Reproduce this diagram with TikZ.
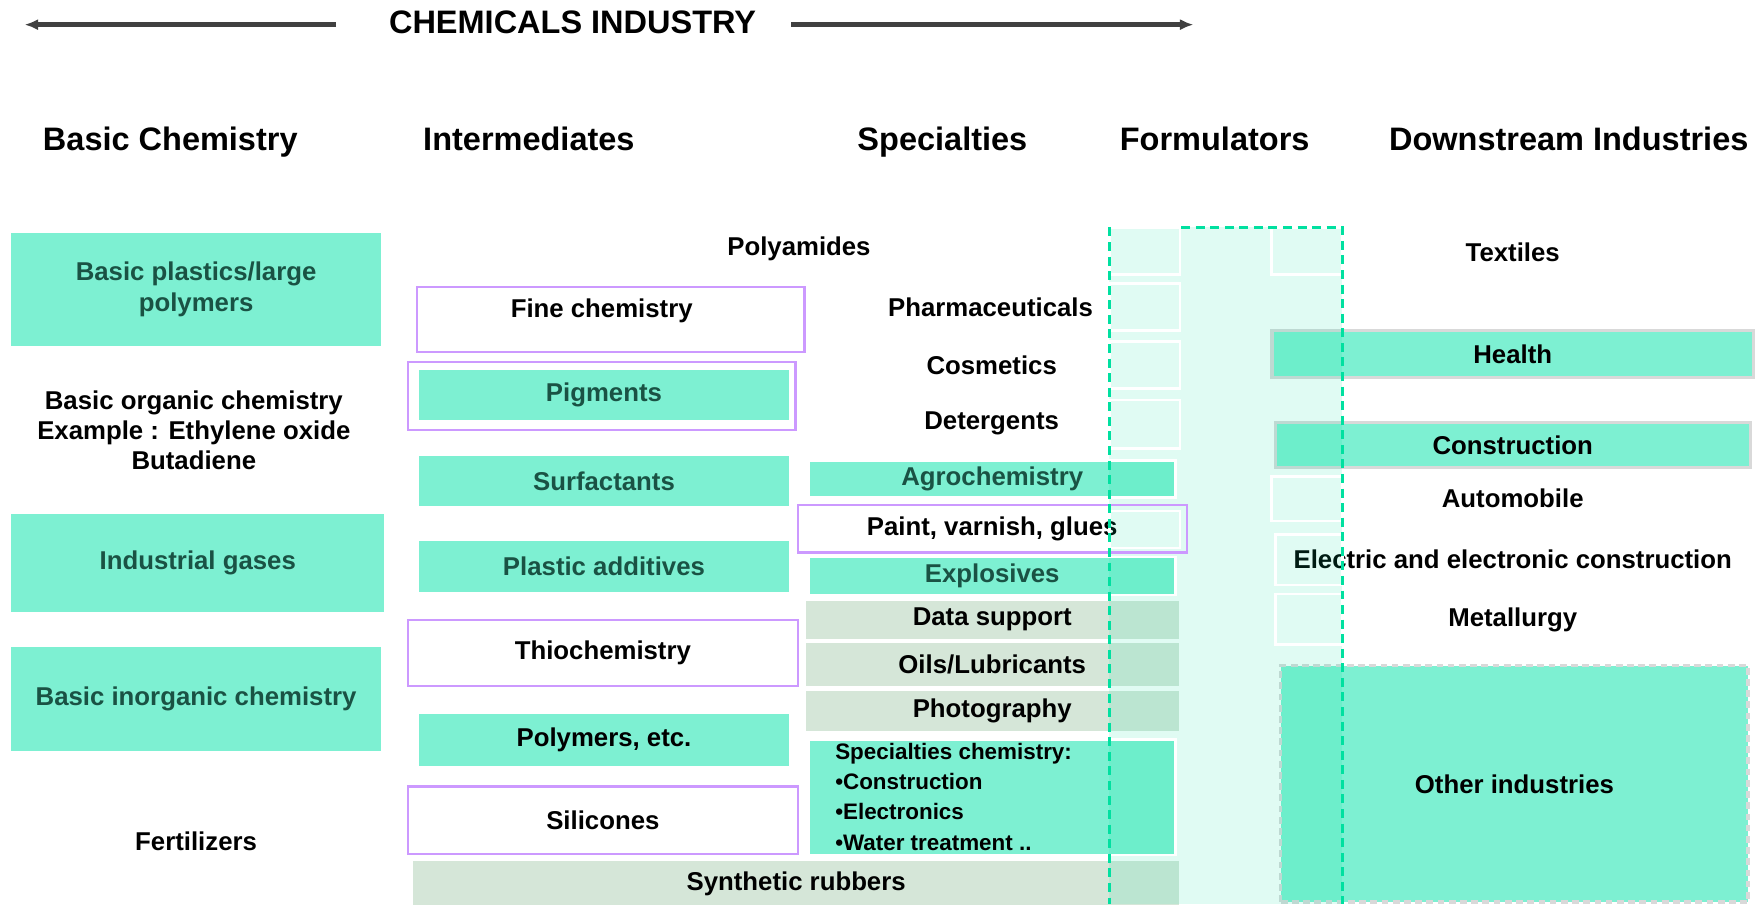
\documentclass[tikz,border=0pt]{standalone}
\usepackage{fontspec}
\setmainfont{Liberation Sans}
\usetikzlibrary{arrows.meta}
\definecolor{mint}{HTML}{7DF0D2}
\definecolor{gg}{HTML}{D5E6D8}
\definecolor{purp}{HTML}{CC99FF}
\definecolor{dashg}{HTML}{00E0A0}
\definecolor{grayb}{HTML}{D9D9D9}
\definecolor{dgreen}{HTML}{1A5244}
\definecolor{arrowgray}{HTML}{404040}
\tikzset{
 bx/.style={inner sep=0pt, outer sep=0pt, rectangle},
 sz/.style 2 args={minimum width=#1, minimum height=#2},
 mintbox/.style={bx, fill=mint},
 mintwbox/.style={bx, fill=mint, draw=white, line width=1.2pt},
 purpbox/.style={bx, draw=purp, line width=1pt, fill=white},
 ggbox/.style={bx, fill=gg},
 dsbox/.style={bx, fill=mint, draw=grayb, line width=1.5pt},
 odbox/.style={bx, fill=mint, draw=grayb, line width=1.5pt, dash pattern=on 3pt off 2pt},
 cellline/.style={draw=white, line width=1.2pt},
 txt/.style={font=\bfseries\fontsize{11.5}{13.5}\selectfont, align=center, inner sep=0pt},
 gtxt/.style={txt, text=dgreen},
 smalltxt/.style={font=\bfseries\fontsize{10}{13.5}\selectfont, align=left, inner sep=0pt},
 hdr/.style={font=\bfseries\fontsize{14.5}{17}\selectfont, inner sep=0pt, anchor=base},
 arr/.style={draw=arrowgray, line width=2pt, -{Latex[length=6pt,width=5pt]}},
 fdash/.style={draw=dashg, line width=1.2pt, dash pattern=on 4pt off 2.5pt},
}
\begin{document}
\begin{tikzpicture}[x=0.5pt,y=-0.5pt]
\useasboundingbox[fill=white] (0,0) rectangle (1568,807);

% title and arrows
\node[hdr] (title) at (511,30) {CHEMICALS INDUSTRY};
\coordinate (ls) at (300,22);
\coordinate (le) at (22,22);
\coordinate (rs) at (706,22);
\coordinate (re) at (1065,22);
\draw[arr] (ls) -- (le);
\draw[arr] (rs) -- (re);

% headers
\node[hdr] (h1) at (152,134) {Basic Chemistry};
\node[hdr] (h2) at (472,134) {Intermediates};
\node[hdr] (h3) at (841,134) {Specialties};
\node[hdr] (h4) at (1084,134) {Formulators};
\node[hdr] (h5) at (1400,134) {Downstream Industries};

% basic chemistry
\node[mintbox, sz={165pt}{50.25pt}, gtxt] (bp) at (175,258.25) {Basic plastics/large\\polymers};
\node[txt] (bo) at (173,384) {Basic organic chemistry\\Example : Ethylene oxide\\Butadiene};
\node[mintbox, sz={166.5pt}{43.5pt}, gtxt] (ig) at (176.5,502.5) {Industrial gases};
\node[mintbox, sz={165pt}{46.5pt}, gtxt] (bi) at (175,623.5) {Basic inorganic chemistry};
\node[txt] (fe) at (175,751) {Fertilizers};

% intermediates
\node[txt] (pa) at (713,222) {Polyamides};
\node[purpbox, sz={173pt}{29pt}] (fc) at (545,285) {};
\node[txt] (fct) at (537,277) {Fine chemistry};
\node[purpbox, sz={173pt}{30.5pt}] (pgo) at (537,353.5) {};
\node[mintbox, sz={165pt}{22.5pt}, gtxt] (pg) at (539,352.5) {Pigments};
\node[mintbox, sz={165pt}{22.5pt}, gtxt] (su) at (539,429.5) {Surfactants};
\node[mintbox, sz={165pt}{22.5pt}, gtxt] (pl) at (539,505.5) {Plastic additives};
\node[purpbox, sz={174pt}{29.5pt}, txt] (th) at (538,582.5) {Thiochemistry};
\node[mintbox, sz={165pt}{23.5pt}, txt] (po) at (539,660.5) {Polymers, etc.};
\node[purpbox, sz={174pt}{30pt}, txt] (si) at (538,732) {Silicones};
\node[ggbox, sz={341.5pt}{21pt}, txt] (sr) at (710.5,789) {Synthetic rubbers};

% specialties
\node[txt] (ph) at (884,274) {Pharmaceuticals};
\node[txt] (co) at (885,326) {Cosmetics};
\node[txt] (de) at (885,378) {Detergents};
\node[mintwbox, sz={163.5pt}{16.5pt}, gtxt] (ag) at (885.5,427.5) {Agrochemistry};
\node[purpbox, sz={173.5pt}{21pt}, txt] (pv) at (885.5,472) {Paint, varnish, glues};
\node[mintwbox, sz={163.5pt}{17pt}, gtxt] (ex) at (885.5,514) {Explosives};
\node[ggbox, sz={166.5pt}{17pt}, txt] (ds) at (885.5,553) {Data support};
\node[ggbox, sz={166.5pt}{19pt}, txt] (ol) at (885.5,593) {Oils/Lubricants};
\node[ggbox, sz={166.5pt}{17.5pt}, txt] (pt) at (885.5,634.5) {Photography};
\node[mintwbox, sz={163.5pt}{51.5pt}] (sc) at (885.5,711.5) {};
\node[smalltxt, anchor=west] (sct) at (745,711) {Specialties chemistry:\\•Construction\\•Electronics\\•Water treatment ..};

% downstream
\node[txt] (te) at (1350,225) {Textiles};
\node[dsbox, sz={215pt}{21pt}, txt] (he) at (1350,316) {Health};
\node[dsbox, sz={212pt}{20pt}, txt] (cn) at (1350,397) {Construction};
\node[txt] (au) at (1350,445) {Automobile};
\node[txt] (el) at (1350,499) {Electric and electronic construction};
\node[txt] (me) at (1350,553) {Metallurgy};
\node[odbox, sz={208.5pt}{105.5pt}, txt] (ot) at (1351.5,699.5) {Other industries};

% formulators overlay
\fill[dashg, opacity=0.12] (990,203) rectangle (1198,807);
\draw[cellline] (990,203) rectangle (1053,245);
\draw[cellline] (990,253) rectangle (1053,295);
\draw[cellline] (990,305) rectangle (1053,347);
\draw[cellline] (990,357) rectangle (1053,400);
\draw[cellline] (990,456) rectangle (1053,489);
\draw[cellline] (ag.north west) rectangle (ag.south east);
\draw[cellline] (ex.north west) rectangle (ex.south east);
\draw[cellline] (sc.north west) rectangle (sc.south east);
\draw[cellline] (1135,203) rectangle (1198,245);
\draw[cellline] (1135,425) rectangle (1198,465);
\draw[cellline] (1138,477) rectangle (1198,522);
\draw[cellline] (1138,530) rectangle (1198,575);
\draw[draw=purp, line width=1pt] (pv.north west) rectangle (pv.south east);

% dashed frame
\draw[fdash] (990,203) -- (990,807);
\draw[fdash] (1054,203) -- (1198,203) -- (1198,807);
\end{tikzpicture}
\end{document}
